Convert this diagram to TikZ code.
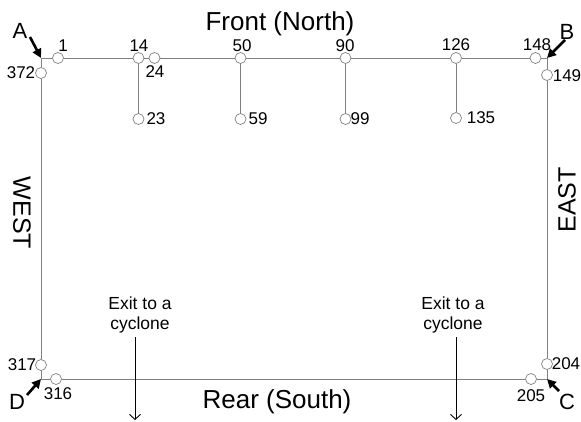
\documentclass[tikz,border=0pt]{standalone}
\usepackage{fontspec}
\setmainfont{Liberation Sans}
\usetikzlibrary{arrows.meta}
\begin{document}
\begin{tikzpicture}[x=1pt,y=-1pt,
  pt/.style={circle,draw=black!50,fill=white,line width=0.7pt,minimum size=11pt,inner sep=0pt},
  wall/.style={draw=black!50,line width=0.8pt},
  num/.style={inner sep=0pt,font=\fontsize{17}{20}\selectfont},
  big/.style={inner sep=0pt,font=\fontsize{26}{30}\selectfont},
  side/.style={inner sep=0pt,font=\fontsize{25}{30}\selectfont},
  corner/.style={inner sep=0pt,font=\fontsize{22}{26}\selectfont},
  cornerarrow/.style={line width=2.6pt,-{Triangle[length=9pt,width=9pt]}},
  exitarrow/.style={line width=0.9pt,-{Straight Barb[length=5pt,width=11pt]}},
  exittext/.style={inner sep=0pt,align=center,font=\fontsize{17.5}{20}\selectfont}]
\useasboundingbox (0,0) rectangle (581,421);
% corners
\coordinate (cA) at (41,58);
\coordinate (cB) at (547,58);
\coordinate (cC) at (547,379);
\coordinate (cD) at (41,379);
% sampling points
\node[pt] (p1) at (58,58) {};
\node[pt] (p14) at (138.5,58) {};
\node[pt] (p24) at (154.5,58) {};
\node[pt] (p50) at (240.5,58) {};
\node[pt] (p90) at (345.5,58) {};
\node[pt] (p126) at (456,58) {};
\node[pt] (p148) at (535.5,58) {};
\node[pt] (p23) at (138.5,119) {};
\node[pt] (p59) at (240.5,119) {};
\node[pt] (p99) at (345.5,119) {};
\node[pt] (p135) at (456,118) {};
\node[pt] (p372) at (41,73) {};
\node[pt] (p149) at (547,75) {};
\node[pt] (p317) at (41,365) {};
\node[pt] (p204) at (547,364) {};
\node[pt] (p316) at (56,379) {};
\node[pt] (p205) at (531,379) {};
% walls
\draw[wall] (cA) -- (p1);
\draw[wall] (p1) -- (p14);
\draw[wall] (p14) -- (p24);
\draw[wall] (p24) -- (p50);
\draw[wall] (p50) -- (p90);
\draw[wall] (p90) -- (p126);
\draw[wall] (p126) -- (p148);
\draw[wall] (p148) -- (cB);
\draw[wall] (cA) -- (p372);
\draw[wall] (p372) -- (p317);
\draw[wall] (p317) -- (cD);
\draw[wall] (cD) -- (p316);
\draw[wall] (p316) -- (p205);
\draw[wall] (p205) -- (cC);
\draw[wall] (cB) -- (p149);
\draw[wall] (p149) -- (p204);
\draw[wall] (p204) -- (cC);
\draw[wall] (p14) -- (p23);
\draw[wall] (p50) -- (p59);
\draw[wall] (p90) -- (p99);
\draw[wall] (p126) -- (p135);
% number labels
\node[num] (l1) at (63,46) {1};
\node[num] (l14) at (139,46) {14};
\node[num] (l24) at (155,72) {24};
\node[num] (l50) at (242,46) {50};
\node[num] (l90) at (345,46) {90};
\node[num] (l126) at (456,45) {126};
\node[num] (l148) at (537,45) {148};
\node[num] (l23) at (156,119) {23};
\node[num] (l59) at (258,119) {59};
\node[num] (l99) at (360,119) {99};
\node[num] (l135) at (481,118) {135};
\node[num] (l372) at (21,73) {372};
\node[num] (l149) at (567,76) {149};
\node[num] (l317) at (22,365) {317};
\node[num] (l204) at (566,364) {204};
\node[num] (l316) at (58,394) {316};
\node[num] (l205) at (531,396) {205};
% titles
\node[big] (front) at (280,24) {Front (North)};
\node[big] (rear) at (277,402) {Rear (South)};
\node[side,rotate=-90] (west) at (22,213) {WEST};
\node[side,rotate=90] (east) at (567,200) {EAST};
% corner letters and arrows
\node[corner] (A) at (20,31) {A};
\node[corner] (B) at (567,32) {B};
\node[corner] (C) at (567,402) {C};
\node[corner] (D) at (17,402) {D};
\coordinate (aA) at (30,37);
\coordinate (aB) at (565,40);
\coordinate (aC) at (559,391);
\coordinate (aD) at (27,395);
\draw[cornerarrow] (aA) -- (cA);
\draw[cornerarrow] (aB) -- (cB);
\draw[cornerarrow] (aC) -- (cC);
\draw[cornerarrow] (aD) -- (cD);
% exits
\node[exittext] (exitL) at (140,315) {Exit to a\\cyclone};
\node[exittext] (exitR) at (453,315) {Exit to a\\cyclone};
\coordinate (eL1) at (135,337);
\coordinate (eL2) at (135,420);
\coordinate (eR1) at (456,337);
\coordinate (eR2) at (456,420);
\draw[exitarrow] (eL1) -- (eL2);
\draw[exitarrow] (eR1) -- (eR2);
\end{tikzpicture}
\end{document}
